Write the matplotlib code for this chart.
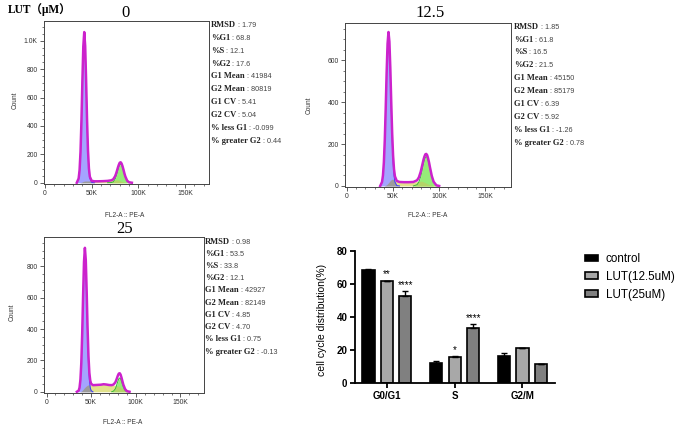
import numpy as np
import matplotlib
matplotlib.use('Agg')
import matplotlib.pyplot as plt
from matplotlib.ticker import MultipleLocator

W, H = 676, 428

# FL2-A (x1000) and counts
x_0 = [0, 34, 36, 37, 38, 39, 40, 41, 42, 43, 44, 45, 46, 47, 48, 50, 53, 57, 62, 67,
       71, 73, 75, 76, 77, 78, 79, 80, 81, 82, 83, 84, 85, 86, 88, 90, 93, 100, 176]
g1_0 = [0, 0, 30, 89, 216, 432, 708, 951, 1050, 951, 708, 432, 216, 89, 30, 2, 0, 0, 0, 0,
        0, 0, 0, 0, 0, 0, 0, 0, 0, 0, 0, 0, 0, 0, 0, 0, 0, 0, 0]
s_0 = [0, 0, 0, 0, 1, 3, 6, 9, 11, 12, 12, 12, 12, 12, 12, 11, 10, 10, 11, 13,
       16, 18, 20, 20, 20, 19, 17, 15, 12, 9, 7, 5, 3, 2, 0, 0, 0, 0, 0]
g2_0 = [0, 0, 0, 0, 0, 0, 0, 0, 0, 0, 0, 0, 0, 0, 0, 0, 0, 0, 0, 0,
        1, 6, 25, 42, 63, 87, 109, 126, 132, 126, 109, 87, 63, 42, 14, 3, 0, 0, 0]

x_12 = [0, 36, 38, 39, 40, 41, 42, 43, 44, 45, 46, 47, 48, 49, 50, 51, 52, 54, 57, 62,
        67, 72, 76, 78, 80, 82, 83, 84, 85, 86, 87, 88, 89, 90, 92, 94, 97, 100, 176]
g1_12 = [0, 0, 19, 50, 113, 220, 369, 536, 669, 720, 669, 536, 369, 220, 113, 50, 19, 2, 0, 0,
         0, 0, 0, 0, 0, 0, 0, 0, 0, 0, 0, 0, 0, 0, 0, 0, 0, 0, 0]
s_12 = [0, 0, 0, 0, 0, 1, 3, 6, 10, 15, 20, 26, 30, 32, 32, 30, 27, 22, 19, 18,
        18, 19, 21, 22, 23, 21, 19, 17, 15, 13, 11, 9, 7, 5, 3, 1, 0, 0, 0]
g2_12 = [0, 0, 0, 0, 0, 0, 0, 0, 0, 0, 0, 0, 0, 0, 0, 0, 0, 0, 0, 0,
         0, 0, 6, 19, 45, 85, 106, 123, 136, 140, 136, 123, 106, 85, 45, 19, 3, 0, 0]

x_25 = [0, 34, 36, 37, 38, 39, 40, 41, 42, 43, 44, 45, 46, 47, 48, 49, 50, 52, 55, 58,
        61, 64, 67, 70, 73, 75, 77, 78, 79, 80, 81, 82, 83, 84, 85, 86, 88, 90, 93, 100, 176]
g1_25 = [0, 0, 7, 26, 76, 183, 366, 600, 806, 890, 806, 600, 366, 183, 76, 26, 7, 0, 0, 0,
         0, 0, 0, 0, 0, 0, 0, 0, 0, 0, 0, 0, 0, 0, 0, 0, 0, 0, 0, 0, 0]
s_25 = [0, 0, 0, 0, 1, 3, 8, 15, 22, 28, 34, 38, 42, 44, 45, 45, 44, 42, 43, 44,
        45, 48, 46, 43, 42, 42, 41, 40, 38, 36, 33, 30, 26, 22, 18, 14, 8, 3, 0, 0, 0]
g2_25 = [0, 0, 0, 0, 0, 0, 0, 0, 0, 0, 0, 0, 0, 0, 0, 0, 0, 0, 0, 0,
         0, 0, 0, 0, 0, 4, 18, 32, 50, 68, 83, 88, 83, 68, 50, 32, 9, 1, 0, 0, 0]

stat_names = ['RMSD', '%G1', '%S', '%G2', 'G1 Mean', 'G2 Mean', 'G1 CV', 'G2 CV',
              '% less G1', '% greater G2']
stats_0 = ['1.79', '68.8', '12.1', '17.6', '41984', '80819', '5.41', '5.04', '-0.099', '0.44']
stats_12 = ['1.85', '61.8', '16.5', '21.5', '45150', '85179', '6.39', '5.92', '-1.26', '0.78']
stats_25 = ['0.98', '53.5', '33.8', '12.1', '42927', '82149', '4.85', '4.70', '0.75', '-0.13']

# bar chart
phases = ['G0/G1', 'S', 'G2/M']
groups = ['control', 'LUT(12.5uM)', 'LUT(25uM)']
pct_control = [68.7, 12.3, 16.6]
pct_lut12 = [61.9, 16.1, 21.1]
pct_lut25 = [53.2, 33.7, 11.5]
err_control = [0.8, 1.0, 1.6]
err_lut12 = [0.3, 0.5, 0.4]
err_lut25 = [2.6, 2.0, 0.4]
stars_lut12 = ['**', '*', '']
stars_lut25 = ['****', '****', '']

fig = plt.figure(figsize=(6.76, 4.28), dpi=100)


def px_axes(l, t, r, b):
    return fig.add_axes([l / W, 1 - b / H, (r - l) / W, (b - t) / H])


def ftext(x, y, s, **kw):
    return fig.text(x / W, 1 - y / H, s, **kw)


def nonzero_part(x, y):
    idx = np.nonzero(y)[0]
    sl = slice(max(idx[0] - 1, 0), idx[-1] + 2)
    return x[sl], y[sl]


def histo(box, x, g1, s, g2, xlim, ylim, yticks, ylabels):
    ax = px_axes(*box)
    x = np.array(x, float)
    g1 = np.array(g1, float)
    s = np.array(s, float)
    g2 = np.array(g2, float)
    total = g1 + s + g2
    ax.fill_between(x, s, color='#e2e28c', lw=0)
    ax.fill_between(x, g1, color='#a4a4ff', lw=0)
    ax.fill_between(x, g2, color='#96ec78', lw=0)
    ax.fill_between(x, np.minimum(g1, s), color='#9c9c9c', lw=0)
    ax.fill_between(x, np.minimum(g2, s), color='#b4d468', lw=0)
    ax.plot(*nonzero_part(x, g1), color='#3b3bff', lw=0.7)
    ax.plot(*nonzero_part(x, g2), color='#33bb33', lw=0.7)
    ax.plot(*nonzero_part(x, total), color='#cc22cc', lw=1.8)
    ax.set_xlim(*xlim)
    ax.set_ylim(*ylim)
    ax.set_xticks([0, 50, 100, 150])
    ax.set_xticklabels(['0', '50K', '100K', '150K'])
    ax.xaxis.set_minor_locator(MultipleLocator(10))
    ax.set_yticks(yticks)
    ax.set_yticklabels(ylabels)
    ax.yaxis.set_minor_locator(MultipleLocator(50))
    for sp in ax.spines.values():
        sp.set_color('#444444')
        sp.set_linewidth(0.7)
    ax.tick_params(which='major', length=3, width=0.6, color='#444444',
                   labelsize=4.9, labelcolor='#333333', pad=1.5)
    ax.tick_params(which='minor', length=1.5, width=0.5, color='#444444')
    for lab in ax.get_xticklabels() + ax.get_yticklabels():
        lab.set_family('Liberation Sans')
    return ax


def stats(ax, x, y, dy, values):
    for i, (name, val) in enumerate(zip(stat_names, values)):
        t = ftext(x, y + i * dy, name, family='Liberation Serif', weight='bold',
                  size=6.1, va='center', color='#222222')
        ax.annotate(' : ' + val, xy=(1, 0), xycoords=t, va='bottom', ha='left',
                    family='Liberation Sans', size=5.2, color='#444444',
                    annotation_clip=False)


ax0 = histo((44, 21, 209, 184), x_0, g1_0, s_0, g2_0, (-1.1, 175.6), (-9, 1139),
            [0, 200, 400, 600, 800, 1000], ['0', '200', '400', '600', '800', '1.0K'])
ax12 = histo((345, 23, 511, 187), x_12, g1_12, s_12, g2_12, (-2.2, 178), (-5, 778),
             [0, 200, 400, 600], ['0', '200', '400', '600'])
ax25 = histo((44, 237, 204, 393), x_25, g1_25, s_25, g2_25, (-2.8, 176.4), (-8, 987),
             [0, 200, 400, 600, 800], ['0', '200', '400', '600', '800'])

stats(ax0, 211, 25, 12.86, stats_0)
stats(ax12, 514, 26.7, 12.9, stats_12)
stats(ax25, 205, 241.7, 12.2, stats_25)

ftext(8, 10, 'LUT（μM）', family=['Liberation Serif', 'Noto Sans CJK SC'], weight='bold',
      size=8.3, va='center', ha='left')
ftext(125, 13, '0', family='Liberation Serif', size=12, ha='center', va='center')
ftext(430, 13, '12.5', family='Liberation Serif', size=12, ha='center', va='center')
ftext(125, 229, '25', family='Liberation Serif', size=12, ha='center', va='center')

for cx, cy in [(15, 100), (309, 105), (12, 312)]:
    ftext(cx, cy, 'Count', family='Liberation Sans', size=4.7, rotation=90,
          ha='center', va='center', color='#333333')
for cx, cy in [(125, 216), (428, 216), (123, 422)]:
    ftext(cx, cy, 'FL2-A :: PE-A', family='Liberation Sans', size=4.7,
          ha='center', va='center', color='#333333')

# bar chart of phase distribution
axb = px_axes(355, 251.3, 555, 383.3)
xpos = np.arange(len(phases))
off = 0.272
w = 0.18
cols = ['#000000', '#a8a8a8', '#808080']
series = [pct_control, pct_lut12, pct_lut25]
errs = [err_control, err_lut12, err_lut25]
for i in range(3):
    axb.bar(xpos + (i - 1) * off, series[i], w, yerr=[np.zeros(3), errs[i]],
            color=cols[i], edgecolor='black', linewidth=1.2, label=groups[i],
            error_kw=dict(elinewidth=1, capsize=2.5, capthick=1, ecolor='black'))
for i, (vals, es, st) in enumerate([(pct_lut12, err_lut12, stars_lut12),
                                    (pct_lut25, err_lut25, stars_lut25)]):
    for j in range(3):
        if st[j]:
            axb.text(xpos[j] + i * off, vals[j] + es[j] + 0.8, st[j], ha='center',
                     va='bottom', family='Liberation Sans', size=7)

axb.set_xlim(-0.47, 2.48)
axb.set_ylim(0, 80)
axb.set_yticks([0, 20, 40, 60, 80])
axb.set_xticks(xpos)
axb.set_xticklabels(phases)
axb.spines['top'].set_visible(False)
axb.spines['right'].set_visible(False)
axb.spines['left'].set_linewidth(1.3)
axb.spines['bottom'].set_linewidth(1.3)
axb.tick_params(length=3.5, width=1.3, labelsize=7, pad=2)
for lab in axb.get_xticklabels() + axb.get_yticklabels():
    lab.set_family('Liberation Sans')
    lab.set_weight('bold')
axb.set_ylabel('cell cycle distribution(%)', family='Liberation Sans', size=7.5)
axb.yaxis.set_label_coords(-0.14, 0.48)

axb.legend(loc='upper left', bbox_to_anchor=(585 / W, 1 - 253 / H),
           bbox_transform=fig.transFigure, frameon=False, borderpad=0,
           borderaxespad=0, prop={'family': 'Liberation Sans', 'size': 8.4},
           handlelength=1.1, handleheight=0.5, handletextpad=0.7, labelspacing=0.5)

fig.savefig('out.png', dpi=100, facecolor='white')
